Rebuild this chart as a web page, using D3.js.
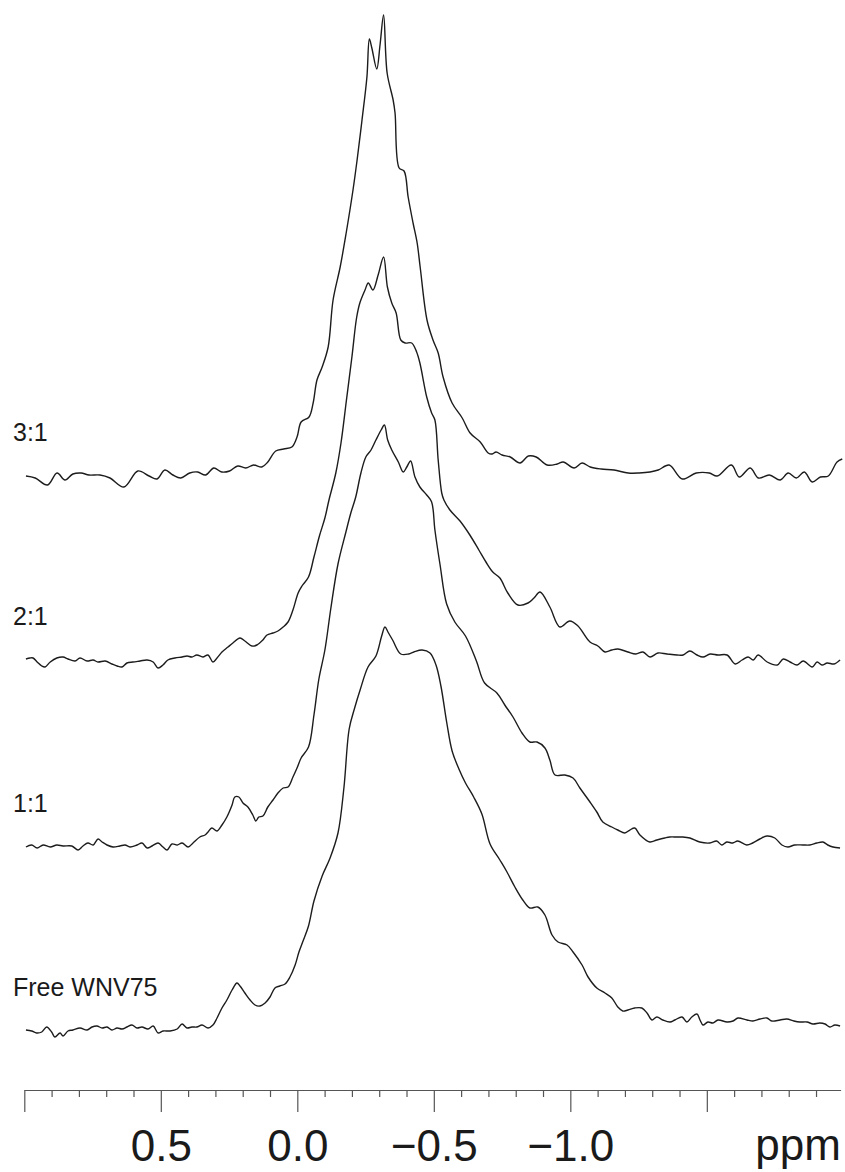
<!DOCTYPE html>
<html>
<head>
<meta charset="utf-8">
<script src="https://cdn.jsdelivr.net/npm/d3@7"></script>
<style>
  html, body { margin: 0; padding: 0; background: #fff; }
  svg { display: block; }
  text { font-family: "Liberation Sans", Arial, Helvetica, sans-serif; fill: #1a1a1a; }
</style>
</head>
<body>
<svg id="chart" width="845" height="1172"></svg>
<script>
// ---------- data ----------
const labels = ["3:1", "2:1", "1:1", "Free WNV75"];
// vertical stacking offset of each spectrum (intensity units)
const offsets = [555, 371, 184, 0];

const ppm31 = [0.994,0.960,0.915,0.880,0.851,0.822,0.792,0.763,0.723,0.686,0.635,0.584,0.543,0.514,0.485,0.456,0.427,0.394,0.365,0.336,0.306,0.277,0.248,0.218,0.189,0.160,0.130,0.108,0.079,0.050,0.020,0.001,-0.014,-0.043,-0.058,-0.072,-0.091,-0.113,-0.131,-0.157,-0.179,-0.204,-0.219,-0.237,-0.255,-0.264,-0.273,-0.291,-0.303,-0.316,-0.329,-0.351,-0.358,-0.373,-0.391,-0.406,-0.424,-0.439,-0.450,-0.475,-0.497,-0.516,-0.534,-0.567,-0.604,-0.633,-0.670,-0.699,-0.714,-0.728,-0.750,-0.780,-0.816,-0.846,-0.875,-0.915,-0.952,-0.974,-1.014,-1.043,-1.073,-1.113,-1.160,-1.212,-1.252,-1.292,-1.322,-1.362,-1.410,-1.461,-1.509,-1.538,-1.590,-1.619,-1.659,-1.689,-1.729,-1.769,-1.798,-1.828,-1.857,-1.886,-1.916,-1.945,-1.977,-1.996];
const int31 = [-1,-3,-10,2,-5,1,2,0,0,-3,-12,4,-1,-4,5,0,-3,2,3,0,7,3,4,9,7,10,8,13,24,26,28,38,53,58,72,95,108,128,175,208,242,285,315,355,398,436,427,406,430,460,402,375,362,307,304,278,252,232,208,155,135,122,98,72,57,42,33,22,21,23,20,18,12,19,18,10,11,13,7,12,8,6,5,2,2,3,5,10,-4,2,2,-1,10,-2,7,-3,0,-5,2,-3,3,-7,-2,-1,13,16];

const ppm21 = [0.994,0.979,0.968,0.953,0.936,0.924,0.905,0.881,0.858,0.840,0.814,0.796,0.770,0.748,0.730,0.704,0.679,0.660,0.642,0.624,0.602,0.576,0.550,0.528,0.510,0.492,0.474,0.448,0.422,0.404,0.386,0.368,0.346,0.327,0.309,0.294,0.276,0.254,0.236,0.210,0.192,0.166,0.148,0.126,0.111,0.089,0.071,0.052,0.034,0.016,-0.003,-0.017,-0.041,-0.061,-0.081,-0.101,-0.116,-0.141,-0.160,-0.180,-0.200,-0.217,-0.229,-0.248,-0.260,-0.277,-0.296,-0.316,-0.330,-0.346,-0.362,-0.379,-0.395,-0.419,-0.437,-0.449,-0.474,-0.492,-0.504,-0.516,-0.529,-0.537,-0.559,-0.596,-0.632,-0.665,-0.691,-0.716,-0.742,-0.771,-0.808,-0.845,-0.867,-0.889,-0.925,-0.962,-0.998,-1.028,-1.072,-1.101,-1.127,-1.152,-1.174,-1.211,-1.240,-1.266,-1.292,-1.321,-1.354,-1.391,-1.413,-1.438,-1.464,-1.486,-1.512,-1.541,-1.574,-1.604,-1.629,-1.651,-1.670,-1.688,-1.721,-1.758,-1.780,-1.805,-1.831,-1.853,-1.886,-1.904,-1.922,-1.941,-1.966,-1.988];
const int21 = [0,1,1,-3,-7,-8,-3,1,2,0,-2,1,-2,-1,-3,-2,-5,-7,-8,-4,-3,-2,-1,-3,-9,-6,-1,1,2,3,2,4,2,4,-3,1,7,12,16,21,18,13,14,19,24,26,28,32,37,49,66,73,82,102,123,141,159,186,216,259,302,341,356,369,376,369,384,402,372,356,346,319,316,316,307,296,262,246,239,199,166,159,149,138,124,109,97,87,81,66,54,56,61,67,52,32,38,33,17,13,7,9,10,7,5,7,2,6,5,4,4,8,4,2,5,4,4,-5,-1,2,-1,4,-3,-6,0,-3,-6,-2,-8,-3,-6,-4,-5,-1];

const ppm11 = [0.994,0.973,0.953,0.931,0.905,0.881,0.858,0.826,0.803,0.785,0.767,0.748,0.730,0.715,0.697,0.675,0.650,0.631,0.613,0.587,0.569,0.550,0.532,0.510,0.492,0.477,0.459,0.440,0.422,0.400,0.382,0.357,0.338,0.327,0.313,0.294,0.276,0.258,0.239,0.229,0.214,0.199,0.181,0.163,0.152,0.141,0.126,0.108,0.089,0.071,0.052,0.034,0.016,0.001,-0.014,-0.041,-0.061,-0.079,-0.101,-0.123,-0.149,-0.178,-0.196,-0.214,-0.233,-0.251,-0.270,-0.288,-0.307,-0.319,-0.331,-0.346,-0.370,-0.388,-0.401,-0.415,-0.431,-0.449,-0.474,-0.492,-0.504,-0.523,-0.547,-0.577,-0.616,-0.656,-0.686,-0.731,-0.760,-0.790,-0.823,-0.852,-0.878,-0.907,-0.925,-0.944,-0.980,-1.010,-1.035,-1.072,-1.097,-1.119,-1.152,-1.174,-1.200,-1.218,-1.236,-1.255,-1.291,-1.317,-1.346,-1.364,-1.390,-1.412,-1.438,-1.474,-1.511,-1.536,-1.555,-1.573,-1.595,-1.613,-1.646,-1.668,-1.694,-1.720,-1.749,-1.775,-1.797,-1.822,-1.852,-1.877,-1.903,-1.925,-1.943,-1.962,-1.988];
const int11 = [-1,1,-2,1,-1,1,0,0,-4,0,3,1,7,4,1,-1,0,1,-1,1,3,-2,0,3,-1,-4,2,1,3,-1,3,9,11,14,18,15,21,29,41,49,49,43,39,31,25,29,30,39,46,53,58,59,69,78,88,99,131,167,196,238,282,314,333,349,373,389,396,406,416,421,406,396,384,374,379,385,369,359,351,344,316,281,242,224,210,185,163,153,141,129,113,104,104,98,86,71,71,68,58,44,34,24,19,16,13,16,18,11,4,6,8,9,9,9,8,4,3,5,1,4,3,5,1,3,7,10,8,1,-1,1,1,1,3,4,1,-1,-2];

const ppmFree = [0.994,0.973,0.955,0.936,0.918,0.900,0.888,0.869,0.858,0.840,0.822,0.796,0.770,0.752,0.734,0.715,0.697,0.679,0.660,0.642,0.624,0.606,0.587,0.569,0.547,0.528,0.510,0.492,0.466,0.440,0.422,0.404,0.386,0.368,0.349,0.327,0.309,0.294,0.276,0.258,0.239,0.221,0.210,0.192,0.173,0.155,0.137,0.118,0.100,0.082,0.064,0.045,0.027,0.008,-0.006,-0.021,-0.041,-0.061,-0.091,-0.120,-0.149,-0.171,-0.190,-0.210,-0.230,-0.259,-0.288,-0.309,-0.321,-0.332,-0.349,-0.379,-0.408,-0.427,-0.457,-0.486,-0.508,-0.526,-0.547,-0.567,-0.592,-0.616,-0.646,-0.676,-0.706,-0.742,-0.768,-0.797,-0.826,-0.852,-0.881,-0.907,-0.933,-0.955,-0.988,-1.010,-1.043,-1.065,-1.097,-1.127,-1.152,-1.174,-1.192,-1.211,-1.236,-1.262,-1.281,-1.299,-1.317,-1.339,-1.365,-1.383,-1.409,-1.427,-1.445,-1.464,-1.475,-1.486,-1.504,-1.522,-1.541,-1.574,-1.596,-1.614,-1.647,-1.669,-1.695,-1.720,-1.738,-1.768,-1.793,-1.819,-1.841,-1.867,-1.889,-1.914,-1.933,-1.951,-1.969,-1.988];
const intFree = [0,-1,-3,-2,3,-2,-7,-3,-6,-1,0,2,0,3,4,2,3,0,2,1,3,5,2,3,1,4,-3,-1,-1,1,6,2,3,3,5,2,5,12,22,30,40,47,44,37,30,25,24,27,33,42,44,46,53,65,78,89,104,129,154,172,197,243,301,322,340,363,374,394,403,398,390,376,376,378,380,377,365,344,308,279,261,247,233,216,186,170,158,143,130,122,123,115,95,88,85,78,65,53,42,37,32,23,19,20,22,22,17,10,13,10,8,10,13,8,13,16,10,5,8,7,10,8,9,12,10,9,11,12,9,10,11,9,8,8,6,7,6,3,5,4];

// axis ticks
const majorTicks = [1.0, 0.5, 0.0, -0.5, -1.0, -1.5];
const labelledTicks = [0.5, 0.0, -0.5, -1.0];
const minorTicks = d3.range(10, -20, -1).map(d => d / 10);
const axisUnit = "ppm";

// ---------- build ----------
const ppmSets = [ppm31, ppm21, ppm11, ppmFree];
const intSets = [int31, int21, int11, intFree];
const spectra = labels.map((name, i) => ({
  name,
  offset: offsets[i],
  points: ppmSets[i].map((p, j) => ({ ppm: p, v: intSets[i][j] }))
}));

const svg = d3.select("#chart");
const x = d3.scaleLinear().domain([1.0, -1.99]).range([24.3, 840.6]);
const y = d3.scaleLinear().domain([0, 1000]).range([1030, 30]);

const line = d3.line()
  .x(d => x(d.ppm))
  .y(d => d.y)
  .curve(d3.curveCatmullRom.alpha(0.5));

const g = svg.append("g");
spectra.forEach(s => {
  g.append("path")
    .datum(s.points.map(p => ({ ppm: p.ppm, y: y(p.v + s.offset) })))
    .attr("fill", "none")
    .attr("stroke", "#1c1c1c")
    .attr("stroke-width", 1.4)
    .attr("stroke-linejoin", "round")
    .attr("d", line);

  g.append("text")
    .attr("x", 13)
    .attr("y", y(s.offset + 34))
    .attr("font-size", 25)
    .text(s.name);
});

// axis: minor ticks
const axisY = 1090;
svg.append("g")
  .attr("transform", `translate(0,${axisY})`)
  .call(d3.axisBottom(x).tickValues(minorTicks.filter(t => !majorTicks.some(m => Math.abs(m - t) < 1e-9)))
    .tickSize(7).tickSizeOuter(0).tickFormat(""))
  .call(a => a.select(".domain").attr("stroke", "#555").attr("stroke-width", 1.2))
  .call(a => a.selectAll(".tick line").attr("stroke", "#555").attr("stroke-width", 1.2));

// axis: major ticks + labels
const fmt = d3.format(".1f");
svg.append("g")
  .attr("transform", `translate(0,${axisY})`)
  .call(d3.axisBottom(x).tickValues(majorTicks).tickSize(22).tickSizeOuter(0)
    .tickFormat(d => labelledTicks.includes(d) ? fmt(d) : ""))
  .call(a => a.select(".domain").remove())
  .call(a => a.selectAll(".tick line").attr("stroke", "#555").attr("stroke-width", 1.2))
  .call(a => a.selectAll(".tick text")
    .attr("y", 71).attr("dy", 0)
    .attr("font-size", 44)
    .attr("font-family", "'Liberation Sans', Arial, Helvetica, sans-serif")
    .attr("fill", "#1a1a1a"));

svg.append("text")
  .attr("x", 798)
  .attr("y", axisY + 70)
  .attr("text-anchor", "middle")
  .attr("font-size", 44)
  .text(axisUnit);
</script>
</body>
</html>
